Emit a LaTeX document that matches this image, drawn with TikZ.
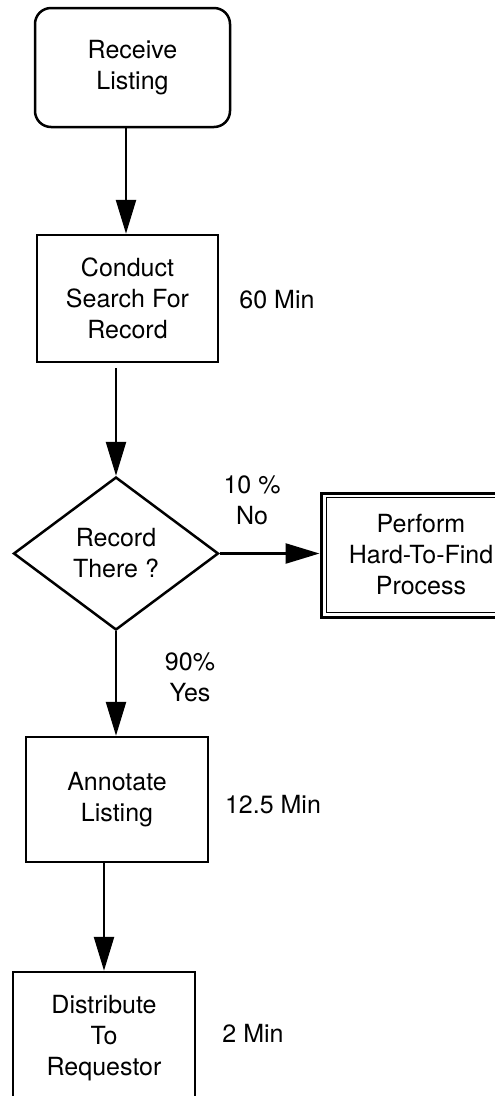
\documentclass[tikz,border=0pt]{standalone}
\usepackage{fontspec}
\setmainfont{TeX Gyre Heros}
\usetikzlibrary{shapes.geometric,arrows.meta}
\begin{document}
\begin{tikzpicture}[x=1pt,y=-1pt,
  every node/.style={font=\fontsize{25}{31}\selectfont, align=center, inner sep=0pt},
  proc/.style={draw, line width=2.5pt, rectangle},
  dec/.style={draw, line width=2.5pt, diamond},
  lbl/.style={},
  flow/.style={line width=2.5pt, -{Triangle[width=20pt,length=34pt]}}
]
\useasboundingbox (0,0) rectangle (495,1096);
\clip (0,0) rectangle (495,1096);

\node[proc, rounded corners=16pt, minimum width=195pt, minimum height=119pt] (b1) at (132.5,67.5) {Receive\\Listing};
\node[proc, minimum width=181pt, minimum height=127pt] (b2) at (127.5,298.5) {Conduct\\Search For\\Record};
\node[lbl] (t60) at (277,300) {60 Min};
\node[dec, minimum width=205pt, minimum height=153pt] (d) at (116,553.5) {Record\\There ?};
\node[proc, line width=3pt, minimum width=200pt, minimum height=124pt] (b3) at (421,555) {Perform\\Hard-To-Find\\Process};
\draw[line width=1.5pt] ([shift={(7pt,-6pt)}]b3.north west) rectangle ([shift={(-7pt,6pt)}]b3.south east);
\node[lbl] (tno) at (252,500) {10 \%\\No};
\node[lbl] (tyes) at (190,677) {90\%\\Yes};
\node[proc, minimum width=182pt, minimum height=125pt] (b4) at (117,799.5) {Annotate\\Listing};
\node[lbl] (t125) at (273,805) {12.5 Min};
\node[proc, minimum width=182pt, minimum height=132pt] (b5) at (104,1038) {Distribute\\To\\Requestor};
\node[lbl] (t2) at (253,1033) {2 Min};

\draw[flow] (b1.south -| b2.north) ++(-1.5,0) -- ([xshift=-1.5pt]b2.north);
\draw[flow] ([yshift=-5pt]b2.south -| d.north) -- (d.north);
\draw[flow] (d.east) -- (d.east -| b3.west);
\draw[flow] (d.south) -- (d.south |- b4.north);
\draw[flow] (b4.south -| b5.north) -- (b5.north);
\end{tikzpicture}
\end{document}
